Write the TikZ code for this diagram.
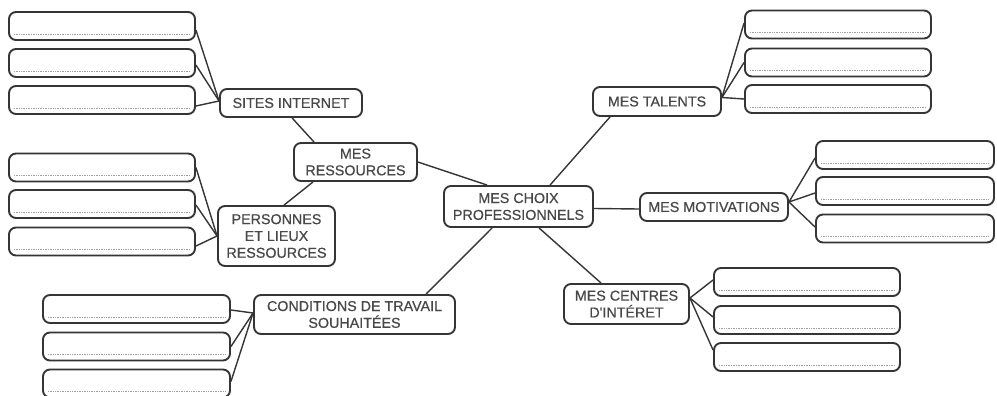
\documentclass[tikz,border=0pt]{standalone}
\usepackage{fontspec}
\setmainfont{Liberation Sans}
\newfontfamily\labelfont[FakeBold=0.6]{Liberation Sans}
\usetikzlibrary{calc}
\pgfdeclarelayer{background}
\pgfsetlayers{background,main}
\definecolor{ink}{HTML}{353535}
\definecolor{txt}{HTML}{484848}
\definecolor{dots}{HTML}{A0A0A0}
\tikzset{
  box/.style={draw=ink, line width=1.9pt, rounded corners=7pt, fill=white,
    inner sep=0pt, align=center, text=txt,
    font=\labelfont\fontsize{14.3}{16.8}\selectfont},
  topic/.style n args={2}{box, minimum width=#1, minimum height=#2},
  leaf/.style={box, minimum width=#1, minimum height=28pt},
  link/.style={draw=ink, line width=1.4pt},
  writeline/.style={draw=dots, line width=0.8pt, dash pattern=on 1pt off 0.7pt}
}
% a blank answer box with a dotted writing line near its bottom
\newcommand\leafbox[4]{%
  \node[leaf=#4] (#1) at (#2,#3) {};
  \draw[writeline] ($(#1.south west)+(6,-7)$) -- ($(#1.south east)+(-6,-7)$);
}
\begin{document}
\begin{tikzpicture}[x=1pt,y=-1pt]
\useasboundingbox (0,0) rectangle (997,396);
\clip (0,0) rectangle (997,396);

% central topic and branches
\node[topic={149pt}{41pt}] (center) at (518.5,206.5) {MES CHOIX\\PROFESSIONNELS};
\node[topic={123pt}{38pt}] (ress) at (355.5,162) {MES\\RESSOURCES};
\node[topic={142pt}{28pt}] (sites) at (291,103) {SITES INTERNET};
\node[topic={117pt}{60pt}] (pers) at (276.5,236) {PERSONNES\\ET LIEUX\\RESSOURCES};
\node[topic={201pt}{39pt}] (cond) at (354.5,314.5) {CONDITIONS DE TRAVAIL\\SOUHAITÉES};
\node[topic={128pt}{29pt}] (talents) at (657,101.5) {MES TALENTS};
\node[topic={148pt}{28pt}] (motiv) at (714,207) {MES MOTIVATIONS};
\node[topic={125pt}{40pt}] (centres) at (626.5,304) {MES CENTRES\\D'INTÉRET};

% answer boxes, left side
\leafbox{la}{102}{26}{186pt}
\leafbox{lb}{102}{63}{186pt}
\leafbox{lc}{102}{100}{186pt}
\leafbox{pa}{102}{167.5}{186pt}
\leafbox{pb}{102}{204}{186pt}
\leafbox{pc}{102}{241.5}{186pt}
\leafbox{ca}{136.5}{309}{187pt}
\leafbox{cb}{136.5}{346.5}{187pt}
\leafbox{cc}{136.5}{383.5}{187pt}
% answer boxes, right side
\leafbox{ta}{838}{24.5}{186pt}
\leafbox{tb}{838}{62.5}{186pt}
\leafbox{tc}{838}{99}{186pt}
\leafbox{ma}{905}{155}{178pt}
\leafbox{mb}{905}{191}{178pt}
\leafbox{mc}{905}{228.5}{178pt}
\leafbox{ea}{807}{282}{186pt}
\leafbox{eb}{807}{320}{186pt}
\leafbox{ec}{807}{357}{186pt}

\begin{pgfonlayer}{background}
  \fill[white] (0,0) rectangle (997,396);
  % branches from the central topic
  \draw[link] ($(center.north west)+(44,0)$) -- (ress.east);
  \draw[link] ($(center.north west)+(107,0)$) -- ($(talents.south west)+(18,0)$);
  \draw[link] ($(center.east)+(0,2)$) -- ($(motiv.west)+(0,2)$);
  \draw[link] ($(center.south west)+(96,0)$) -- ($(centres.north west)+(38,0)$);
  \draw[link] ($(center.south west)+(49,0)$) -- ($(cond.north west)+(173,0)$);
  \draw[link] ($(ress.north west)+(21,0)$) -- ($(sites.south west)+(73,0)$);
  \draw[link] ($(ress.south west)+(20,0)$) -- ($(pers.north west)+(67,0)$);
  % sites internet
  \draw[link] ($(la.east)+(0,4)$) -- ($(sites.west)+(0,-2)$);
  \draw[link] ($(lb.east)+(0,2)$) -- ($(sites.west)+(0,-2)$);
  \draw[link] ($(lc.east)+(0,6)$) -- ($(sites.west)+(0,-2)$);
  % personnes et lieux
  \draw[link] (pa.east) -- (pers.west);
  \draw[link] ($(pb.east)+(0,1)$) -- (pers.west);
  \draw[link] ($(pc.east)+(0,4.5)$) -- (pers.west);
  % conditions de travail
  \draw[link] ($(ca.east)+(0,1)$) -- ($(cond.west)+(0,-1.5)$);
  \draw[link] (cb.east) -- ($(cond.west)+(0,-1.5)$);
  \draw[link] ($(cc.east)+(0,-2)$) -- ($(cond.west)+(0,-1.5)$);
  % talents
  \draw[link] ($(ta.west)+(0,-1.5)$) -- ($(talents.east)+(0,-4)$);
  \draw[link] (tb.west) -- ($(talents.east)+(0,-4)$);
  \draw[link] (tc.west) -- ($(talents.east)+(0,-4)$);
  % motivations
  \draw[link] ($(ma.west)+(0,3)$) -- ($(motiv.east)+(0,-5)$);
  \draw[link] ($(mb.west)+(0,2)$) -- ($(motiv.east)+(0,-5)$);
  \draw[link] ($(mc.west)+(0,-1.5)$) -- ($(motiv.east)+(0,-5)$);
  % centres d'interet
  \draw[link] ($(ea.west)+(0,-2)$) -- ($(centres.east)+(0,-6)$);
  \draw[link] ($(eb.west)+(0,-3)$) -- ($(centres.east)+(0,-6)$);
  \draw[link] ($(ec.west)+(0,-7)$) -- ($(centres.east)+(0,-6)$);
\end{pgfonlayer}
\end{tikzpicture}
\end{document}
